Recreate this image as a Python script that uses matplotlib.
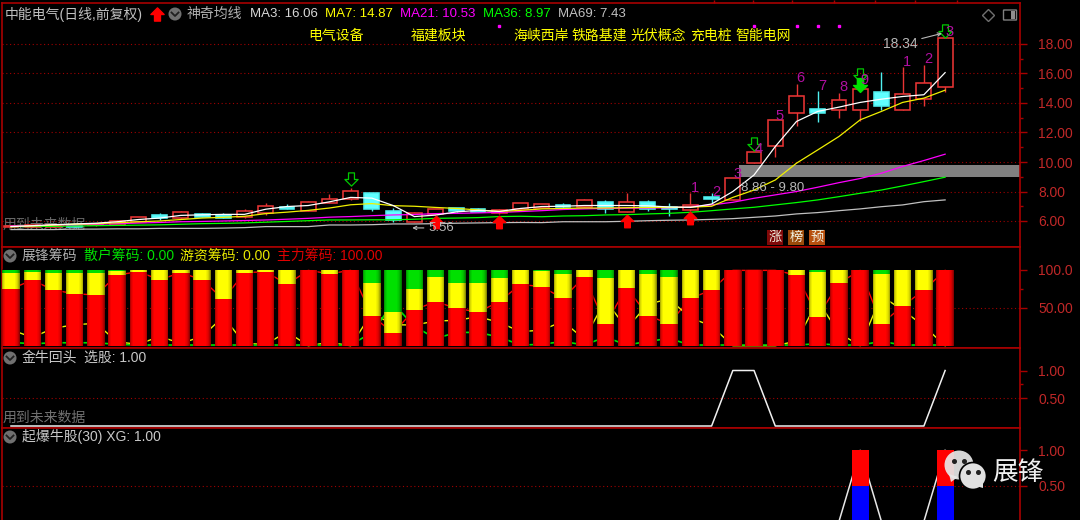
import matplotlib
matplotlib.use('Agg')
import matplotlib.pyplot as plt
import numpy as np
from matplotlib.path import Path
from matplotlib.patches import Circle, Rectangle, Polygon, FancyBboxPatch

plt.rcParams['font.family'] = ['Liberation Sans', 'Noto Sans CJK SC']

# K线
open_ = [5.60,5.62,5.62,5.68,5.70,5.73,5.95,6.38,6.20,6.45,6.38,6.25,6.57,6.93,6.70,7.22,7.47,7.90,6.66,5.91,6.48,6.86,6.81,6.52,6.79,
         6.86,7.11,6.93,7.29,6.59,7.29,6.93,6.77,7.61,7.43,9.96,11.09,13.31,13.58,13.52,13.52,14.74,13.52,14.26,15.10]
close = [5.68,5.70,5.70,5.62,5.80,6.02,6.29,6.20,6.59,6.29,6.23,6.66,7.04,6.82,7.29,7.49,8.06,6.82,6.07,6.52,6.79,6.66,6.63,6.75,7.20,
         7.13,6.97,7.43,6.79,7.27,6.84,6.79,7.11,7.47,8.90,10.66,12.84,14.49,13.29,14.20,14.97,13.77,14.58,15.35,18.40]
high =  [5.70,5.72,5.72,5.70,5.82,6.05,6.30,6.52,6.70,6.57,6.52,6.79,7.20,7.15,7.35,7.83,8.22,7.90,6.86,6.60,6.80,6.90,6.88,6.80,7.25,
         7.15,7.20,7.47,7.43,7.92,7.43,7.20,7.92,7.88,8.90,10.66,12.84,15.30,14.80,14.67,14.97,16.10,16.41,16.55,18.40]
low =   [5.55,5.60,5.60,5.60,5.68,5.70,5.90,6.10,6.15,6.25,6.20,6.20,6.41,6.80,6.70,7.20,7.43,6.70,5.95,5.90,6.45,6.60,6.60,6.50,6.79,
         6.86,6.88,6.93,6.52,6.59,6.70,6.34,6.70,7.20,7.43,9.96,10.32,12.41,12.72,12.95,12.75,13.50,13.52,13.77,14.72]

# 均线
ma3 =  [5.62,5.68,5.75,5.80,5.85,5.95,6.10,6.20,6.38,6.42,6.45,6.45,6.80,6.98,7.05,7.30,7.60,7.55,7.05,6.30,6.40,6.62,6.72,6.65,6.85,
        6.98,7.00,7.05,7.05,7.05,7.03,6.95,6.92,7.15,8.00,9.12,11.05,12.75,13.43,13.72,14.04,14.26,14.44,14.56,16.06]
ma7 =  [5.62,5.66,5.72,5.78,5.82,5.88,5.95,6.00,6.10,6.20,6.25,6.32,6.50,6.60,6.72,6.88,7.10,7.18,7.04,7.00,6.92,6.85,6.75,6.65,6.72,
        6.82,6.85,6.88,6.88,6.90,6.92,6.92,6.94,7.00,7.60,8.10,8.78,9.92,10.82,11.73,12.86,13.43,14.04,14.33,14.87]
ma21 = [5.66,5.68,5.72,5.75,5.78,5.82,5.86,5.90,5.95,5.97,6.00,6.03,6.07,6.12,6.18,6.26,6.30,6.36,6.41,6.44,6.50,6.52,6.55,6.58,6.64,
        6.70,6.78,6.82,6.85,6.87,6.88,6.90,6.97,7.09,7.27,7.54,7.77,8.00,8.29,8.60,8.88,9.24,9.70,10.10,10.53]
ma36 = [5.62,5.63,5.64,5.66,5.68,5.70,5.72,5.74,5.78,5.82,5.84,5.87,5.92,5.97,6.02,6.07,6.07,6.08,6.08,6.12,6.18,6.20,6.23,6.30,6.32,
        6.29,6.34,6.36,6.41,6.43,6.48,6.52,6.59,6.70,6.82,6.93,7.09,7.25,7.43,7.65,7.88,8.10,8.38,8.67,8.97]
ma69 = [5.42,5.42,5.42,5.45,5.45,5.47,5.47,5.50,5.50,5.50,5.52,5.55,5.62,5.62,5.62,5.73,5.73,5.75,5.80,5.80,5.82,5.85,5.87,5.89,5.90,
        5.89,5.95,5.95,5.95,5.98,6.02,6.05,6.07,6.11,6.16,6.25,6.34,6.48,6.57,6.70,6.82,6.97,7.09,7.31,7.43]

# 展锋筹码
zhuli = [74.6,86.4,73.2,68.4,66.7,93.0,97.4,86.8,96.1,86.8,61.0,96.1,97.4,80.7,99.1,94.7,99.1,39.5,16.7,47.4,57.9,49.1,44.3,57.9,80.7,
         77.6,62.3,90.4,28.9,76.3,39.5,28.9,62.3,73.2,99.1,99.1,99.1,93.0,38.2,82.5,99.1,28.9,52.2,73.2,99.1]
youzi = [21.0,11.0,22.9,27.7,29.4,5.2,1.7,12.3,3.0,12.3,38.1,3.0,1.7,18.4,0,4.4,0,43.0,27.6,27.2,32.5,33.4,38.2,30.7,18.4,
         20.6,32.0,8.7,59.7,22.8,54.8,61.5,36.8,25.9,0,0,0,6.1,59.2,16.6,0,65.4,46.9,25.9,0]
sanhu = [4.4,2.6,3.9,3.9,3.9,1.8,0.9,0.9,0.9,0.9,0.9,0.9,0.9,0.9,0.9,0.9,0.9,17.5,55.7,25.4,9.6,17.5,17.5,11.4,0.9,
         1.8,5.7,0.9,11.4,0.9,5.7,9.6,0.9,0.9,0.9,0.9,0.9,0.9,2.6,0.9,0.9,5.7,0.9,0.9,0.9]

# 金牛回头, 起爆牛股
xuangu = [0]*34 + [1,1] + [0]*8 + [1]
xg = [0]*40 + [1,0,0,0,1]

# 信号
count_i = [32,33,34,35,36,37,38,39,40,42,43,44]
count_txt = ['1','2','3','4','5','6','7','8','9','1','2','3']
count_y = [8.24,7.97,9.19,10.9,13.1,15.7,15.15,15.08,15.56,16.78,16.98,18.8]
dot_i = [23,35,37,38,39]
dot_y = [19.2,19.2,19.2,19.2,19.2]
up_i = [20,23,29,32]
up_y = [5.93,5.93,6.01,6.20]
down_i = [16,35,40,44]
down_y = [8.86,11.24,15.90,18.90]
zone_low = 8.95
zone_high = 9.80

sectors = ['电气设备','福建板块','海峡西岸','铁路基建','光伏概念','充电桩','智能电网']
sector_x = [308,411,513,572,631,690,735]
ma_txt = ['MA3: 16.06','MA7: 14.87','MA21: 10.53','MA36: 8.97','MA69: 7.43']
ma_x = [250,325,400,483,558]
ma_col = ['#d8d8d8','#ffff00','#ff00ff','#00ff00','#c0c0c0']

RED = '#a80000'
TXT = '#c8c8c8'
TICK = '#c02828'
W, H = 1080, 520
x = np.arange(45)
xlim = ((2-11)/21.23, (1020-11)/21.23)

fig = plt.figure(figsize=(10.8, 5.2), dpi=100, facecolor='black')

def panel(top, bottom):
    a = fig.add_axes([2/W, 1-bottom/H, 1018/W, (bottom-top)/H], facecolor='black')
    for s in a.spines.values():
        s.set_color(RED)
        s.set_linewidth(1.2)
    a.yaxis.tick_right()
    a.tick_params(axis='y', which='major', colors=RED, length=5, width=1, pad=8, labelsize=10, labelcolor=TICK)
    a.tick_params(axis='y', which='minor', colors=RED, length=2.5, width=1)
    a.set_xticks([])
    return a

def dotted(a, ys):
    for v in ys:
        a.axhline(v, color='#a00000', lw=0.8, ls=(0, (1, 2.4)), zorder=1)

ax = panel(3, 247)
ax2 = panel(247, 348)
ax3 = panel(348, 428)
ax4 = panel(428, 520)
ax4.spines['bottom'].set_visible(False)

# 主图
dotted(ax, range(6, 19, 2))
ax.text((3-11)/21.23, 5.73, '用到未来数据', color='#686868', fontsize=10, va='center', zorder=1.2)
ax.add_patch(Rectangle(((739-11)/21.23, zone_low), 20, zone_high-zone_low, color='#808080', lw=0, zorder=1.5))
for i in x:
    up = close[i] >= open_[i]
    c = '#e83434' if up else '#50f0f0'
    ax.vlines(i, low[i], high[i], color=c, lw=1, zorder=2)
    ax.bar(i, abs(close[i]-open_[i]), 0.7, min(open_[i], close[i]), facecolor='black' if up else '#60ffff',
           edgecolor=c, lw=1.15, zorder=3)
ax.plot(x, ma69, color='#c0c0c0', lw=0.9, zorder=4)
ax.plot(x, ma36, color='#00ff00', lw=0.9, zorder=4)
ax.plot(x, ma21, color='#ff00ff', lw=0.9, zorder=4)
ax.plot(x, ma7, color='#f0f000', lw=0.9, zorder=4)
ax.plot(x, ma3, color='#ffffff', lw=0.9, zorder=4)

arrow_up = Path([(0,1),(1,0),(0.45,0),(0.45,-1),(-0.45,-1),(-0.45,0),(-1,0),(0,1)], closed=True)
arrow_down = Path([(0,-1),(1,0),(0.45,0),(0.45,1),(-0.45,1),(-0.45,0),(-1,0),(0,-1)], closed=True)
ax.plot(up_i, up_y, ls='', marker=arrow_up, ms=9, color='#ff0000', zorder=6)
ax.plot(down_i, down_y, ls='', marker=arrow_down, ms=9.5, mfc='none', mec='#00c800', mew=0.9, zorder=6)
ax.plot([40], [15.2], ls='', marker=arrow_down, ms=10, color='#00e000', zorder=6)
ax.plot(dot_i, dot_y, ls='', marker='s', ms=1.8, color='#ff00ff', zorder=6)
for i, t, v in zip(count_i, count_txt, count_y):
    ax.text(i+0.2, v, t, color='#b010a0', fontsize=10.5, ha='center', va='center', zorder=7)
ax.text((741-11)/21.23, 8.93-0.7, '8.86 - 9.80', color='#b8b8b8', fontsize=9.5, va='center', zorder=7)
ax.annotate('18.34', xy=(43.85, 18.72), xytext=((883-11)/21.23, 18.0), color='#b8b8b8', fontsize=10, va='center', zorder=7,
            arrowprops=dict(arrowstyle='->', color='#b8b8b8', lw=0.8, shrinkA=1, shrinkB=0, mutation_scale=6))
ax.annotate('5.56', xy=(18.9, 5.53), xytext=((428-11)/21.23, 5.53), color='#b8b8b8', fontsize=9.5, va='center', zorder=7,
            arrowprops=dict(arrowstyle='->', color='#b8b8b8', lw=0.8, shrinkA=1, shrinkB=0, mutation_scale=6))
ax.set_ylim(6-(247-221)/14.75, 6+(221-3)/14.75)
ax.set_yticks(range(6, 19, 2))
ax.set_yticklabels(['%.2f' % v for v in range(6, 19, 2)])
ax.set_yticks(range(7, 19, 2), minor=True)
ax.set_xticks([33.1, 34.97, 36.8, 38.75, 40.7, 42.6, 44.55])
ax.tick_params(axis='x', top=True, bottom=False, labelbottom=False, colors=RED, length=2, width=1, direction='out')

# 展锋筹码
dotted(ax2, [50])
ax2.plot(x, zhuli, color='#ff0000', lw=1, zorder=2)
ax2.plot(x, youzi, color='#f0f000', lw=1, zorder=2)
ax2.plot(x, sanhu, color='#00e000', lw=1.2, zorder=2)
zhuli_a = np.array(zhuli)
youzi_a = np.array(youzi)
ax2.bar(x, zhuli_a, 0.82, color='#ff0000', zorder=3)
ax2.bar(x, youzi_a, 0.82, bottom=zhuli_a, color='#ffff00', zorder=3)
ax2.bar(x, sanhu, 0.82, bottom=zhuli_a+youzi_a, color='#00e000', zorder=3)
shade = np.zeros((1, 17, 4))
shade[0, :, 3] = [.3,.15,.07,0,0,0,0,0,0,0,0,0,.05,.1,.18,.3,.45]
for i in x:
    ax2.imshow(shade, extent=[i-0.41, i+0.41, 0, 100], aspect='auto', zorder=4, interpolation='nearest')
ax2.set_ylim(-3, 100+22.7/0.76)
ax2.set_yticks([50, 100])
ax2.set_yticklabels(['50.00', '100.0'])
ax2.set_yticks([75], minor=True)

# 金牛回头
dotted(ax3, [0.5])
ax3.plot(x, xuangu, color='#f0f0f0', lw=1.1, zorder=3)
ax3.set_ylim(-2/55.5, 1+22.5/55.5)
ax3.set_yticks([0.5, 1])
ax3.set_yticklabels(['0.50', '1.00'])
ax3.set_yticks([0.75], minor=True)

# 起爆牛股
dotted(ax4, [0.5])
ax4.plot(x, xg, color='#e8e8e8', lw=1.1, zorder=3)
xg_a = np.array(xg)
ax4.bar(x, xg_a*0.5, 0.8, color='#0000ff', zorder=4)
ax4.bar(x, xg_a*0.5, 0.8, bottom=0.5, color='#ff0000', zorder=4)
ax4.set_ylim(0.02, 1+22/70)
ax4.set_yticks([0.5, 1])
ax4.set_yticklabels(['0.50', '1.00'])

for a in (ax, ax2, ax3, ax4):
    a.set_xlim(xlim)

# 文字层, 用像素坐标
top = fig.add_axes([0, 0, 1, 1], facecolor='none')
top.set_xlim(0, W)
top.set_ylim(H, 0)
top.axis('off')

def label(px, py, s, color=TXT, size=9.7, **kw):
    top.text(px, py, s, color=color, fontsize=size, va='center', ha=kw.pop('ha', 'left'), **kw)

def fold(px, py):
    top.add_patch(Circle((px, py), 6.5, color='#707070', lw=0))
    top.plot([px-3.5, px, px+3.5], [py-1.5, py+2, py-1.5], color='#202020', lw=1.3)

label(5, 14, '中能电气(日线,前复权)', '#c0c0c0', 10)
top.plot([157], [14], ls='', marker=arrow_up, ms=9.5, color='#ff0000')
fold(175, 14)
label(187, 14, '神奇均线', '#b0b0b0', 10)
for px, s, c in zip(ma_x, ma_txt, ma_col):
    label(px, 14, s, c, 9.5)
for px, s in zip(sector_x, sectors):
    label(px, 36, s, '#ffff00', 10)
top.plot([988], [15], ls='', marker='D', ms=6.5, mfc='none', mec='#707070', mew=1)
top.add_patch(FancyBboxPatch((1004, 10.5), 12, 9, boxstyle='round,pad=0.5', fc='none', ec='#808080', lw=1))
top.add_patch(Rectangle((1011, 11), 4, 8, color='#909090', lw=0))

# 涨榜预
for px, s, c in zip([767, 788, 809], ['涨', '榜', '预'], ['#800808', '#9a4a0a', '#b8500f']):
    top.add_patch(Rectangle((px, 230), 15.5, 15, color=c, lw=0))
    label(px+7.8, 237.5, s, '#f0f0e0', 9.5, ha='center')

fold(10, 256)
label(22, 256, '展锋筹码', '#b0b0b0', 10)
label(84, 256, '散户筹码: 0.00', '#00e000', 10)
label(180, 256, '游资筹码: 0.00', '#e8e800', 10)
label(277, 256, '主力筹码: 100.00', '#e00000', 10)
fold(10, 358)
label(22, 358, '金牛回头', '#c8c8c8', 10)
label(84, 358, '选股: 1.00', '#c8c8c8', 10)
label(3, 418, '用到未来数据', '#707070', 10)
fold(10, 437)
label(22, 437, '起爆牛股(30) XG: 1.00', '#c8c8c8', 10)

# 水印
top.add_patch(Circle((959, 465), 14.5, color='#e8e8e8', alpha=0.92, lw=0))
top.add_patch(Polygon([(949, 474), (951, 482), (958, 477)], color='#e8e8e8', alpha=0.92, lw=0))
top.add_patch(Circle((973, 476), 13.5, fc='#e0e0e0', ec='black', lw=1.2))
top.add_patch(Polygon([(976, 486), (983, 488), (983, 481)], color='#e0e0e0', lw=0))
top.plot([954, 964, 968, 978], [461, 461, 472, 472], ls='', marker='o', ms=2.6, color='#202020')
label(992, 473, '展锋', '#f0f0f0', 18.5)

fig.savefig('out.png', dpi=100, facecolor='black')
